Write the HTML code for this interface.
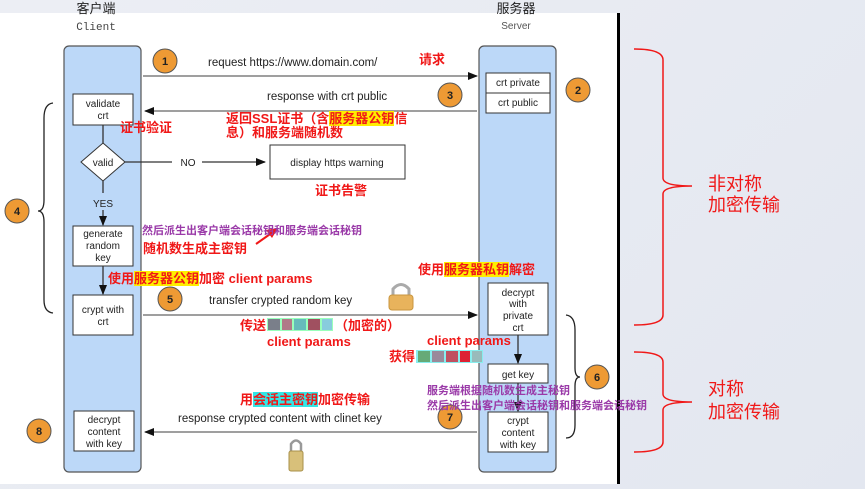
<!DOCTYPE html>
<html><head><meta charset="utf-8">
<style>
html,body{margin:0;padding:0;}
body{width:865px;height:489px;overflow:hidden;background:linear-gradient(135deg,#eceef4,#e3e7f0);position:relative;font-family:"Liberation Sans","Noto Sans CJK SC",sans-serif;}
svg{position:absolute;left:0;top:0;}
text{font-family:"Liberation Sans","Noto Sans CJK SC",sans-serif;}
.p{fill:#9a3aa8;font-weight:bold;}
.b{fill:#222;}
.t{position:absolute;color:#f01818;font-weight:bold;font-size:13px;line-height:14px;white-space:nowrap;font-family:"Liberation Sans","Noto Sans CJK SC",sans-serif;}
.y{background:#ffee00;}
.c{background:#33e6e6;}
</style></head><body>
<svg width="865" height="489" viewBox="0 0 865 489">
<defs>
<marker id="ar" markerWidth="10" markerHeight="8" refX="9" refY="4" orient="auto" markerUnits="userSpaceOnUse"><path d="M0,0 L10,4 L0,8z" fill="#111"/></marker>
</defs>
<rect x="0" y="13" width="618" height="471" fill="#fff"/>
<rect x="617" y="13" width="3" height="471" fill="#000"/>
<text x="96" y="13" font-size="13" class="b" text-anchor="middle">客户端</text>
<text x="96" y="30" font-size="11" fill="#444" text-anchor="middle" style="font-family:'Liberation Mono',monospace">Client</text>
<text x="516" y="13" font-size="13" class="b" text-anchor="middle">服务器</text>
<text x="516" y="29" font-size="10" fill="#555" text-anchor="middle">Server</text>
<rect x="64" y="46" width="77" height="426" rx="5" fill="#bcd8f8" stroke="#555" stroke-width="1.2"/>
<rect x="479" y="46" width="77" height="426" rx="5" fill="#bcd8f8" stroke="#555" stroke-width="1.2"/>
<g fill="#fff" stroke="#333" stroke-width="1">
<rect x="73" y="94" width="60" height="31"/>
<rect x="73" y="226" width="60" height="40"/>
<rect x="73" y="295" width="60" height="40"/>
<rect x="74" y="411" width="60" height="40"/>
<polygon points="103,143 125,162 103,181 81,162"/>
<rect x="486" y="73" width="64" height="40"/>
<line x1="486" y1="93" x2="550" y2="93"/>
<rect x="488" y="283" width="60" height="52"/>
<rect x="488" y="364" width="60" height="19"/>
<rect x="488" y="412" width="60" height="40"/>
<rect x="270" y="145" width="135" height="34"/>
</g>
<g font-size="10" class="b" text-anchor="middle">
<text x="103" y="107">validate</text><text x="103" y="119">crt</text>
<text x="103" y="166">valid</text>
<text x="103" y="237">generate</text><text x="103" y="249">random</text><text x="103" y="261">key</text>
<text x="103" y="313">crypt with</text><text x="103" y="325">crt</text>
<text x="104" y="423">decrypt</text><text x="104" y="435">content</text><text x="104" y="447">with key</text>
<text x="518" y="86">crt private</text><text x="518" y="106">crt public</text>
<text x="518" y="296">decrypt</text><text x="518" y="307">with</text><text x="518" y="319">private</text><text x="518" y="331">crt</text>
<text x="518" y="378">get key</text>
<text x="518" y="424">crypt</text><text x="518" y="436">content</text><text x="518" y="448">with key</text>
<text x="337" y="166">display https warning</text>
<text x="103" y="207">YES</text>
<text x="188" y="166">NO</text>
</g>
<g stroke="#333" stroke-width="1.3" fill="none">
<line x1="103" y1="125" x2="103" y2="143"/>
<line x1="103" y1="181" x2="103" y2="193"/>
<line x1="103" y1="210" x2="103" y2="225" marker-end="url(#ar)"/>
<line x1="103" y1="266" x2="103" y2="294" marker-end="url(#ar)"/>
<line x1="125" y1="162" x2="172" y2="162"/>
<line x1="202" y1="162" x2="265" y2="162" marker-end="url(#ar)"/>
<line x1="518" y1="335" x2="518" y2="363" marker-end="url(#ar)"/>
<line x1="518" y1="383" x2="518" y2="411" marker-end="url(#ar)"/>
<line x1="143" y1="76" x2="477" y2="76" stroke="#666" marker-end="url(#ar)"/>
<line x1="477" y1="111" x2="145" y2="111" stroke="#666" marker-end="url(#ar)"/>
<line x1="143" y1="315" x2="477" y2="315" stroke="#666" marker-end="url(#ar)"/>
<line x1="477" y1="432" x2="145" y2="432" stroke="#666" marker-end="url(#ar)"/>
</g>
<path d="M53,103 Q44,104 44,118 L44,200 Q44,211 38,211 Q44,211 44,222 L44,300 Q44,312 53,313" stroke="#222" stroke-width="1.3" fill="none"/>
<path d="M566,315 Q575,316 575,330 L575,368 Q575,377 580,377 Q575,377 575,386 L575,425 Q575,438 566,438" stroke="#222" stroke-width="1.3" fill="none"/>
<path d="M634,49 Q663,49 663,60 L663,178 Q663,186 692,186 Q663,186 663,194 L663,315 Q663,325 634,325" stroke="#f01818" stroke-width="1.5" fill="none"/>
<path d="M634,352 Q663,352 663,362 L663,394 Q663,402 692,402 Q663,402 663,410 L663,442 Q663,452 634,452" stroke="#f01818" stroke-width="1.5" fill="none"/>
<g font-size="18" fill="#f01818">
<text x="708" y="190">非对称</text><text x="708" y="211">加密传输</text>
<text x="708" y="395">对称</text><text x="708" y="418">加密传输</text>
</g>
<g fill="#ee9a34" stroke="#555" stroke-width="1">
<circle cx="165" cy="61" r="12"/><circle cx="450" cy="95" r="12"/><circle cx="578" cy="90" r="12"/>
<circle cx="17" cy="211" r="12"/><circle cx="170" cy="299" r="12"/><circle cx="597" cy="377" r="12"/>
<circle cx="450" cy="417" r="12"/><circle cx="39" cy="431" r="12"/>
</g>
<g font-size="11" font-weight="bold" fill="#222" text-anchor="middle">
<text x="165" y="65">1</text><text x="450" y="99">3</text><text x="578" y="94">2</text>
<text x="17" y="215">4</text><text x="170" y="303">5</text><text x="597" y="381">6</text>
<text x="450" y="421">7</text><text x="39" y="435">8</text>
</g>
<g font-size="11.5" fill="#222">
<text x="208" y="66">request https://www.domain.com/</text>
<text x="267" y="100">response with crt public</text>
<text x="209" y="304">transfer crypted random key</text>
<text x="178" y="422">response crypted content with clinet key</text>
</g>
<path d="M256,244 L273,232" stroke="#f01818" stroke-width="2"/><path d="M278,228 L266,230 L272,238z" fill="#f01818"/>
<g>
<rect x="267" y="318" width="66" height="13" fill="#9fb"/>
<rect x="268" y="319" width="12" height="11" fill="#7a7f8a"/><rect x="282" y="319" width="10" height="11" fill="#b07a88"/><rect x="294" y="319" width="12" height="11" fill="#6bb"/><rect x="308" y="319" width="12" height="11" fill="#a05060"/><rect x="322" y="319" width="10" height="11" fill="#8cd"/>
<rect x="416" y="350" width="67" height="13" fill="#8ee"/>
<rect x="418" y="351" width="12" height="11" fill="#6a7"/><rect x="432" y="351" width="12" height="11" fill="#9a8a9a"/><rect x="446" y="351" width="12" height="11" fill="#c05060"/><rect x="460" y="351" width="10" height="11" fill="#d23"/><rect x="472" y="351" width="10" height="11" fill="#9bb"/>
</g>
<g font-size="11" class="p">
<text x="142" y="234">然后派生出客户端会话秘钥和服务端会话秘钥</text>
<text x="427" y="394">服务端根据随机数生成主秘钥</text>
<text x="427" y="409">然后派生出客户端会话秘钥和服务端会话秘钥</text>
</g>
<g>
<path d="M393,296 L393,289 Q401,280 409,289 L409,296" stroke="#aaa" stroke-width="3" fill="none"/>
<rect x="389" y="295" width="24" height="15" rx="3" fill="#e8b35c" stroke="#c9963f"/>
<path d="M291,452 L291,444 Q296,437 301,444 L301,452" stroke="#999" stroke-width="2.5" fill="none"/>
<rect x="289" y="451" width="14" height="20" rx="2" fill="#d8c07a" stroke="#a8904a"/>
</g>
</svg>
<div class="t" style="left:419px;top:53px;">请求</div>
<div class="t" style="left:226px;top:112px;">返回SSL证书（含<span class="y">服务器公钥</span>信</div>
<div class="t" style="left:226px;top:126px;">息）和服务端随机数</div>
<div class="t" style="left:120px;top:121px;">证书验证</div>
<div class="t" style="left:315px;top:184px;">证书告警</div>
<div class="t" style="left:143px;top:242px;">随机数生成主密钥</div>
<div class="t" style="left:108px;top:272px;">使用<span class="y">服务器公钥</span>加密 client params</div>
<div class="t" style="left:418px;top:263px;">使用<span class="y">服务器私钥</span>解密</div>
<div class="t" style="left:240px;top:319px;">传送</div>
<div class="t" style="left:335px;top:319px;">（加密的）</div>
<div class="t" style="left:267px;top:335px;">client params</div>
<div class="t" style="left:427px;top:334px;">client params</div>
<div class="t" style="left:389px;top:350px;">获得</div>
<div class="t" style="left:240px;top:393px;">用<span class="c">会话主密钥</span>加密传输</div>
</body></html>
